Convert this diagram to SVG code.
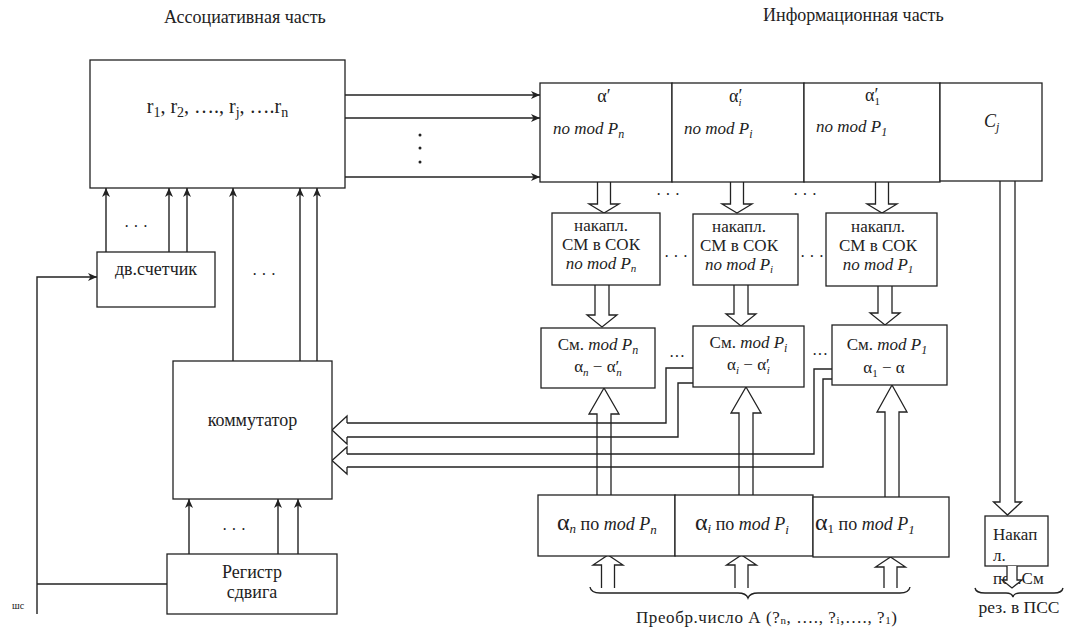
<svg xmlns="http://www.w3.org/2000/svg" width="1068" height="628" viewBox="0 0 1068 628">
<style>
  .bx{fill:#fff;stroke:#222;stroke-width:1.3}
  .ln{fill:none;stroke:#222;stroke-width:1.4}
  .ha{fill:#fff;stroke:#222;stroke-width:1.3}
  text{font-family:'Liberation Serif','Times New Roman',serif;fill:#222}
  .t18{font-size:18px}
  .t17{font-size:17px}
  .t16{font-size:16px}
  .it{font-style:italic}
  .c{text-anchor:middle}
  .dot{fill:#222}
</style>
<defs>
  <marker id="ah" viewBox="-10 -5 10 10" refX="0" refY="0" markerWidth="10" markerHeight="10" orient="auto" markerUnits="userSpaceOnUse">
    <path d="M0,0 L-9,-4 L-6.5,0 L-9,4 Z" fill="#222"/>
  </marker>
</defs>

<text class="t18" x="164" y="23">Ассоциативная часть</text>
<text class="t18" x="763" y="21">Информационная часть</text>

<g id="connectors">
  <path class="ln" d="M345,95 H540" marker-end="url(#ah)"/>
  <path class="ln" d="M345,118 H540" marker-end="url(#ah)"/>
  <path class="ln" d="M345,177 H540" marker-end="url(#ah)"/>
  <circle class="dot" cx="420" cy="135" r="1.5"/>
  <circle class="dot" cx="420" cy="148" r="1.5"/>
  <circle class="dot" cx="420" cy="162" r="1.5"/>
  <path class="ln" d="M106,252 V188" marker-end="url(#ah)"/>
  <path class="ln" d="M169,252 V188" marker-end="url(#ah)"/>
  <path class="ln" d="M187,252 V188" marker-end="url(#ah)"/>
  <text class="t16" x="136" y="232" text-anchor="middle">· · ·</text>
  <path class="ln" d="M233,361 V188" marker-end="url(#ah)"/>
  <path class="ln" d="M300,361 V188" marker-end="url(#ah)"/>
  <path class="ln" d="M317,361 V188" marker-end="url(#ah)"/>
  <text class="t16" x="264" y="280" text-anchor="middle">· · ·</text>
  <path class="ln" d="M37,614 V277 H97" marker-end="url(#ah)"/>
  <path class="ln" d="M37,584 H167"/>
  <path class="ln" d="M189,554 V499" marker-end="url(#ah)"/>
  <path class="ln" d="M278,554 V499" marker-end="url(#ah)"/>
  <path class="ln" d="M298,554 V499" marker-end="url(#ah)"/>
  <text class="t16" x="234" y="535" text-anchor="middle">· · ·</text>

  <polyline class="ha" points="597.5,182 597.5,204 589,204 604,213 619,204 610.5,204 610.5,182"/>
  <polyline class="ha" points="730.5,182 730.5,204 722,204 737,213 752,204 743.5,204 743.5,182"/>
  <polyline class="ha" points="875.5,182 875.5,204 867,204 882,213 897,204 888.5,204 888.5,182"/>
  <text class="t16" x="668" y="200" text-anchor="middle">· · ·</text>
  <text class="t16" x="805" y="200" text-anchor="middle">· · ·</text>

  <polyline class="ha" points="595,285 595,315 587,315 602,327 617,315 609,315 609,285"/>
  <polyline class="ha" points="734,285 734,314 726,314 741,326 756,314 748,314 748,285"/>
  <polyline class="ha" points="878,286 878,313 870,313 885,325 900,313 892,313 892,286"/>

  <polyline class="ha" points="597,495 597,414 589,414 604,388 619,414 611,414 611,495"/>
  <polyline class="ha" points="739,495 739,413 731,413 746,387 761,413 753,413 753,495"/>
  <polyline class="ha" points="885,497 885,412 877,412 892,385 907,412 899,412 899,497"/>

  <path class="ln" d="M693,368 H666 V423 H347"/>
  <path class="ln" d="M693,383 H678 V437 H347"/>
  <path class="ln" d="M832,369 H814 V454 H347"/>
  <path class="ln" d="M832,379 H823 V467 H347"/>
  <polyline class="ha" points="347,423 347,416 332,430 347,444 347,437"/>
  <polyline class="ha" points="347,454 347,447 332,460.5 347,474 347,467"/>
  <text class="t16" x="677" y="362" text-anchor="middle">···</text>
  <text class="t16" x="820" y="360" text-anchor="middle">···</text>

  <polyline class="ha" points="601.5,588 601.5,565 593,565 608,555 623,565 614.5,565 614.5,588"/>
  <polyline class="ha" points="735,588 735,565 726.5,565 741.5,555 756.5,565 748,565 748,588"/>
  <polyline class="ha" points="884,588 884,567 875.5,567 890.5,557 905.5,567 897,567 897,588"/>
  <path class="ln" d="M590,587 Q591,593 600,593 H738 Q746,593 748,598 Q750,593 758,593 H900 Q909,593 910,587" stroke-width="1"/>

  <polyline class="ha" points="1000,181 1000,502 993.5,502 1007.5,515 1021.5,502 1015,502 1015,181"/>
  <path class="ln" d="M975,588 Q976,593 985,593 H1006 Q1012,593 1013,597 Q1014,593 1020,593 H1054 Q1062,593 1063,588" stroke-width="1"/>
</g>

<g id="assoc">
  <rect class="bx" x="90" y="60" width="255" height="128"/>
  <text x="217.5" y="113" class="c" font-size="20">r<tspan font-size="14" dy="4">1</tspan><tspan dy="-4">, r</tspan><tspan font-size="14" dy="4">2</tspan><tspan dy="-4">, …., r</tspan><tspan font-size="14" dy="4">j</tspan><tspan dy="-4">, ….r</tspan><tspan font-size="14" dy="4">n</tspan></text>
</g>

<g id="reg-n">
  <rect class="bx" x="540" y="83" width="132" height="99"/>
  <text class="c" x="604" y="102" font-size="18">α′</text>
  <text class="it" x="553" y="134" font-size="17">по mod P<tspan font-size="12" dy="4">n</tspan></text>
</g>
<g id="reg-i">
  <rect class="bx" x="672" y="83" width="132" height="99"/>
  <text x="729" y="102" font-size="18">α′<tspan class="it" font-size="11" dx="-4" dy="4">i</tspan></text>
  <text class="it" x="684" y="134" font-size="17">по mod P<tspan font-size="12" dy="4">i</tspan></text>
</g>
<g id="reg-1">
  <rect class="bx" x="804" y="83" width="136" height="99"/>
  <text x="865" y="101" font-size="18">α′<tspan font-size="11" dx="-4" dy="4">1</tspan></text>
  <text class="it" x="816" y="132" font-size="17">по mod P<tspan font-size="12" dy="4">1</tspan></text>
</g>
<g id="cj">
  <rect class="bx" x="940" y="83" width="102" height="98"/>
  <text class="it" x="984" y="127" font-size="18">C<tspan font-size="12" dy="4">j</tspan></text>
</g>

<g id="acc-n">
  <rect class="bx" x="552" y="213" width="108" height="72"/>
  <text class="c t17" x="601" y="231">накапл.</text>
  <text class="c t17" x="601" y="250">СМ в СОК</text>
  <text class="c t17 it" x="601" y="269">по mod P<tspan font-size="11" dy="3">n</tspan></text>
</g>
<g id="acc-i">
  <rect class="bx" x="693" y="214" width="105" height="71"/>
  <text class="c t17" x="739" y="232">накапл.</text>
  <text class="c t17" x="739" y="251">СМ в СОК</text>
  <text class="c t17 it" x="739" y="270">по mod P<tspan font-size="11" dy="3">i</tspan></text>
</g>
<g id="acc-1">
  <rect class="bx" x="826" y="213" width="111" height="73"/>
  <text class="c t17" x="878" y="232">накапл.</text>
  <text class="c t17" x="878" y="251">СМ в СОК</text>
  <text class="c t17 it" x="878" y="270">по mod P<tspan font-size="11" dy="3">1</tspan></text>
</g>
<text class="t16" x="676" y="262" text-anchor="middle">· · ·</text>
<text class="t16" x="812" y="262" text-anchor="middle">· · ·</text>

<g id="sum-n">
  <rect class="bx" x="541" y="328" width="114" height="60"/>
  <text class="c t17" x="598" y="350">См. <tspan class="it">mod P</tspan><tspan class="it" font-size="12" dy="4">n</tspan></text>
  <text class="c t17" x="598" y="372">α<tspan class="it" font-size="11" dy="4">n</tspan><tspan dy="-4"> − α′</tspan><tspan class="it" font-size="11" dx="-3" dy="4">n</tspan></text>
</g>
<g id="sum-i">
  <rect class="bx" x="693" y="326" width="111" height="61"/>
  <text class="c t17" x="748.5" y="348">См. <tspan class="it">mod P</tspan><tspan class="it" font-size="12" dy="4">i</tspan></text>
  <text class="c t17" x="748.5" y="370">α<tspan class="it" font-size="11" dy="4">i</tspan><tspan dy="-4"> − α′</tspan><tspan class="it" font-size="11" dx="-3" dy="4">i</tspan></text>
</g>
<g id="sum-1">
  <rect class="bx" x="832" y="325" width="115" height="60"/>
  <text class="c t17" x="887" y="350">См. <tspan class="it">mod P</tspan><tspan class="it" font-size="12" dy="4">1</tspan></text>
  <text class="c t17" x="884" y="373">α<tspan font-size="11" dy="4">1</tspan><tspan dy="-4"> − α</tspan></text>
</g>

<g id="commutator">
  <rect class="bx" x="173" y="361" width="159" height="138"/>
  <text class="c t18" x="252.5" y="426">коммутатор</text>
</g>
<g id="counter">
  <rect class="bx" x="97" y="252" width="118" height="55"/>
  <text class="c t18" x="156" y="275">дв.счетчик</text>
</g>
<g id="shift-reg">
  <rect class="bx" x="167" y="554" width="170" height="60"/>
  <text class="c t18" x="252" y="578">Регистр</text>
  <text class="c t18" x="252" y="598">сдвига</text>
</g>
<text x="12" y="609" font-size="10">шс</text>

<g id="breg-n">
  <rect class="bx" x="538" y="495" width="137" height="61"/>
  <text x="557" y="530" font-size="18"><tspan font-size="24">α</tspan><tspan class="it" font-size="13" dy="3">n</tspan><tspan dy="-3"> по </tspan><tspan class="it">mod P</tspan><tspan class="it" font-size="13" dy="4">n</tspan></text>
</g>
<g id="breg-i">
  <rect class="bx" x="675" y="495" width="138" height="61"/>
  <text x="695" y="530" font-size="18"><tspan font-size="24">α</tspan><tspan class="it" font-size="13" dy="3">i</tspan><tspan dy="-3"> по </tspan><tspan class="it">mod P</tspan><tspan class="it" font-size="13" dy="4">i</tspan></text>
</g>
<g id="breg-1">
  <rect class="bx" x="813" y="497" width="136" height="60"/>
  <text x="815" y="530" font-size="18"><tspan font-size="24">α</tspan><tspan font-size="13" dy="3">1</tspan><tspan dy="-3"> по </tspan><tspan class="it">mod P</tspan><tspan class="it" font-size="13" dy="4">1</tspan></text>
</g>
<text x="636" y="623" font-size="17" textLength="261" lengthAdjust="spacing">Преобр.число А (?<tspan font-size="11" dy="1">n</tspan><tspan dy="-1">, …., ?</tspan><tspan font-size="11" dy="1">i</tspan><tspan dy="-1">,…., ?</tspan><tspan font-size="11" dy="1">1</tspan><tspan dy="-1">)</tspan></text>

<g id="acc-pos">
  <rect class="bx" x="985" y="516" width="63" height="50"/>
  <text class="t17" x="993" y="540">Накап</text>
  <text class="t17" x="993" y="561">л.</text>
  <text class="t17" x="993" y="584">поз.См</text>
  <polyline class="ha" points="1007,566 1007,580 1002,580 1012,588 1022,580 1017,580 1017,566"/>
</g>
<text class="c" x="1019" y="613" font-size="17.5">рез. в ПСС</text>
</svg>
